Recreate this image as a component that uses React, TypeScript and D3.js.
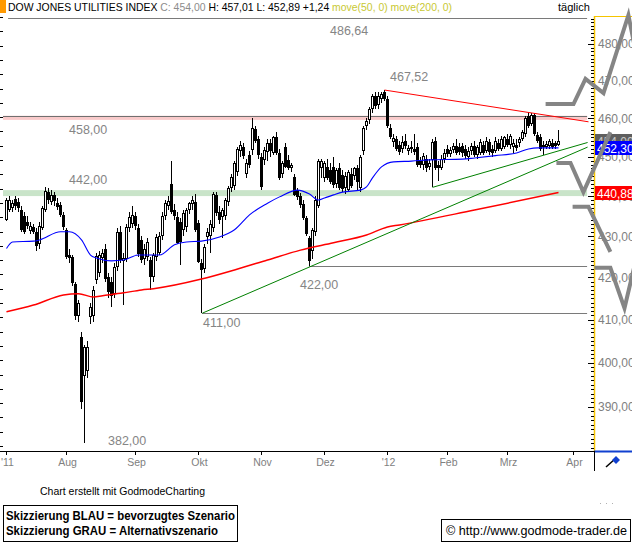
import React from 'react';
import * as d3 from 'd3';

const W = 632;
const H = 550;
const FONT = 'Liberation Sans, Arial, Helvetica, sans-serif';

// daily candles, 1 Jul 2011 .. 23 Mar 2012 : [open, high, low, close]
const ohlc: [number, number, number, number][] = [
  [434.0, 439.5, 433.8, 439.0], [436.5, 440.0, 436.0, 439.0], [437.0, 439.0, 436.0, 438.2], [439.2, 440.0, 436.5, 437.5],
  [438.5, 439.5, 436.0, 437.0], [436.5, 437.5, 431.0, 431.6], [435.0, 436.0, 430.5, 431.0], [433.5, 435.0, 431.8, 432.5],
  [431.3, 433.5, 430.6, 432.5], [432.3, 433.0, 430.5, 431.0], [431.0, 432.0, 426.5, 427.5], [428.0, 433.5, 427.0, 432.5],
  [432.0, 437.5, 431.5, 437.0], [436.5, 442.2, 436.0, 441.3], [441.0, 442.0, 438.0, 439.0], [438.5, 441.5, 437.8, 440.2],
  [440.3, 441.0, 437.5, 438.8], [438.2, 439.5, 436.5, 437.2], [437.8, 438.5, 434.8, 435.2], [435.3, 436.0, 431.5, 432.3],
  [431.6, 432.0, 424.5, 425.0], [425.5, 427.0, 423.5, 424.8], [425.0, 425.5, 418.0, 418.7], [418.5, 419.0, 410.0, 410.8],
  [410.8, 414.6, 409.5, 413.8], [406.0, 407.0, 389.5, 391.0], [397.0, 404.0, 382.0, 403.5], [398.0, 405.0, 396.5, 403.5],
  [410.6, 414.0, 409.0, 413.0], [410.8, 418.0, 409.5, 417.0], [419.4, 426.0, 418.5, 425.2], [421.0, 426.5, 420.0, 425.5],
  [424.8, 427.0, 423.5, 426.0], [427.0, 428.0, 419.0, 419.5], [420.0, 421.0, 415.0, 416.5], [419.0, 420.0, 413.0, 415.5],
  [416.0, 423.5, 415.0, 422.5], [422.5, 432.0, 421.5, 431.0], [431.0, 432.5, 423.5, 424.2], [424.0, 426.0, 413.5, 424.8],
  [424.5, 433.0, 423.8, 432.3], [432.0, 436.0, 431.0, 434.8], [433.0, 437.5, 432.0, 435.3], [435.0, 436.0, 431.5, 432.5],
  [432.0, 433.0, 425.0, 425.6], [429.0, 430.0, 423.5, 424.3], [424.5, 428.0, 423.0, 427.0], [425.0, 429.5, 424.0, 428.6],
  [424.2, 425.0, 417.0, 420.0], [420.2, 426.0, 419.0, 425.5], [425.0, 430.5, 424.0, 429.8], [426.0, 431.0, 425.5, 430.0],
  [430.0, 436.0, 429.0, 435.0], [435.0, 439.0, 434.0, 438.2], [437.5, 440.0, 436.5, 438.8], [443.0, 449.0, 435.5, 436.0],
  [436.5, 438.0, 434.0, 435.0], [434.8, 436.0, 428.0, 428.4], [433.5, 434.5, 423.0, 428.5], [431.6, 436.5, 430.0, 435.8],
  [432.3, 437.0, 431.0, 436.5], [436.5, 438.5, 435.5, 438.2], [438.0, 440.0, 436.5, 439.0], [438.5, 440.5, 431.0, 431.6],
  [433.3, 434.0, 423.5, 423.7], [423.5, 424.5, 411.5, 421.8], [422.0, 428.0, 421.0, 427.3], [429.8, 432.0, 428.0, 431.0],
  [430.0, 434.0, 426.0, 433.0], [432.0, 441.0, 431.0, 440.5], [440.3, 441.0, 435.0, 435.8], [436.0, 437.5, 433.0, 434.0],
  [434.8, 437.0, 429.5, 436.5], [435.0, 439.5, 434.0, 439.0], [438.5, 442.5, 437.5, 442.0], [442.0, 445.5, 441.0, 444.8],
  [442.5, 449.0, 441.5, 448.5], [446.0, 452.5, 445.0, 452.0], [451.5, 454.0, 450.0, 453.0], [452.5, 453.5, 449.5, 450.3],
  [445.5, 449.5, 444.5, 448.5], [450.5, 451.5, 447.0, 448.0], [451.8, 460.0, 450.5, 457.5], [457.2, 458.0, 453.5, 454.0],
  [454.5, 455.5, 449.5, 450.5], [450.0, 451.0, 441.5, 442.3], [449.2, 452.5, 448.0, 451.8], [451.2, 454.5, 449.0, 453.5],
  [453.5, 454.5, 450.0, 451.5], [451.0, 455.5, 450.5, 455.0], [455.0, 456.5, 450.5, 451.0], [451.0, 452.0, 444.0, 444.6],
  [445.5, 449.0, 444.5, 448.4], [452.5, 453.5, 447.0, 447.4], [449.2, 450.5, 446.5, 447.2], [447.0, 448.5, 446.0, 447.9],
  [444.8, 445.5, 440.0, 440.3], [441.5, 442.0, 439.0, 439.8], [440.0, 440.8, 437.0, 437.8], [438.0, 439.0, 434.0, 434.5],
  [434.5, 435.0, 430.0, 430.5], [429.5, 430.0, 422.7, 424.0], [426.5, 432.0, 424.5, 431.5], [431.0, 440.0, 430.0, 439.0],
  [437.5, 449.5, 437.0, 449.0], [447.0, 449.5, 444.5, 448.8], [444.5, 449.0, 443.5, 448.4], [447.4, 449.5, 444.0, 444.5],
  [446.5, 448.5, 443.0, 443.6], [447.5, 450.0, 442.0, 442.8], [443.0, 447.0, 442.0, 446.5], [447.0, 448.5, 441.5, 442.0],
  [445.3, 446.5, 441.0, 441.8], [442.0, 446.0, 440.5, 445.0], [441.5, 446.5, 441.0, 446.0], [445.5, 447.0, 442.0, 442.6],
  [445.0, 447.5, 444.0, 447.0], [447.0, 448.0, 441.5, 443.5], [442.0, 450.5, 441.0, 450.0], [451.5, 458.0, 450.5, 457.5],
  [458.0, 460.0, 457.0, 459.2], [459.5, 463.0, 458.5, 462.5], [462.5, 466.5, 461.5, 466.0], [466.0, 467.0, 462.5, 463.3],
  [463.5, 467.0, 462.5, 466.0], [465.0, 467.0, 464.0, 466.5], [467.0, 467.52, 464.5, 465.0], [465.0, 466.0, 457.5, 458.0],
  [457.5, 458.5, 454.5, 455.0], [453.7, 456.0, 452.5, 454.8], [454.5, 455.5, 451.5, 452.0], [453.0, 454.0, 450.5, 451.2],
  [452.0, 455.5, 451.0, 453.7], [454.2, 455.8, 452.0, 452.8], [451.5, 453.0, 450.5, 452.2], [452.0, 454.0, 451.0, 452.5],
  [452.0, 456.0, 450.5, 451.2], [452.5, 453.5, 447.5, 447.8], [449.0, 450.0, 447.0, 447.8], [448.0, 451.0, 446.5, 450.3],
  [449.5, 450.5, 446.0, 447.2], [447.5, 449.5, 446.5, 448.5], [449.2, 454.5, 442.2, 453.9], [454.0, 455.0, 446.5, 447.0],
  [448.0, 449.0, 443.8, 447.0], [447.2, 450.5, 446.5, 449.4], [449.5, 452.0, 448.5, 451.0], [452.0, 453.0, 450.0, 450.8],
  [450.8, 452.5, 450.0, 451.8], [451.8, 453.5, 451.0, 452.8], [452.8, 454.5, 450.5, 451.0], [452.5, 453.5, 450.5, 451.3],
  [452.8, 453.5, 450.0, 451.0], [452.0, 453.0, 449.5, 450.2], [450.0, 452.5, 449.0, 451.5], [451.5, 453.5, 450.5, 452.8],
  [452.8, 454.0, 450.0, 450.5], [450.5, 453.0, 449.5, 452.5], [451.0, 454.5, 450.5, 453.7], [453.0, 454.0, 450.5, 451.0],
  [451.5, 455.0, 451.0, 454.0], [453.7, 454.5, 450.5, 451.3], [452.0, 453.0, 450.0, 451.0], [451.5, 455.0, 451.0, 454.0],
  [453.5, 454.5, 451.5, 452.0], [452.0, 455.5, 451.5, 454.5], [452.5, 455.5, 452.0, 455.0], [454.5, 456.0, 452.5, 453.0],
  [453.0, 456.0, 452.0, 455.5], [452.5, 454.5, 451.0, 453.5], [453.0, 454.5, 451.5, 452.2], [453.5, 455.0, 452.5, 454.5],
  [454.5, 457.0, 454.0, 456.5], [455.8, 460.5, 455.0, 460.0], [460.5, 461.7, 457.5, 458.0], [458.5, 461.5, 458.0, 460.8],
  [461.0, 461.5, 455.5, 456.0], [455.7, 456.5, 453.5, 454.0], [455.0, 456.0, 451.5, 452.0], [453.0, 454.0, 450.5, 452.5],
  [452.5, 454.0, 452.0, 453.2], [452.8, 454.5, 452.0, 454.0], [453.5, 454.5, 452.0, 452.6], [453.5, 454.0, 452.0, 452.76],
  [453.0, 457.01, 452.89, 454.0],
];

// moving averages: [day index, value]
const ma50: [number, number][] = [
  [0, 427.0], [2, 428.6], [9, 428.8], [11, 429.1], [18, 431.1], [21, 431.1], [25, 429.1], [28, 425.4], [30, 424.7],
  [35, 424.0], [39, 424.2], [44, 425.4], [51, 425.4], [56, 427.9], [60, 428.6], [65, 428.8], [71, 429.8], [76, 431.6],
  [81, 435.3], [87, 438.2], [91, 439.8], [97, 441.5], [101, 440.5], [104, 439.0], [106, 439.5], [109, 440.3],
  [112, 441.0], [118, 441.5], [120, 442.3], [122, 444.6], [125, 447.4], [129, 448.7], [135, 448.9], [141, 449.2],
  [152, 449.4], [156, 449.7], [163, 450.3], [170, 451.0], [174, 452.0], [177, 452.3], [184, 452.3],
];
const ma200: [number, number][] = [
  [0, 411.8], [9, 413.4], [19, 415.8], [24, 416.1], [29, 415.3], [32, 415.6], [39, 416.3], [45, 417.0], [49, 417.3],
  [65, 419.6], [76, 421.8], [87, 424.2], [98, 426.6], [109, 428.4], [120, 430.3], [127, 432.3], [131, 432.8],
  [156, 436.5], [184, 440.88],
];

// trend lines
const resistLine: [number, number][] = [[126, 467.52], [194, 459.1]];
const supportLong: [number, number][] = [[65.3, 411.5], [193.7, 452.5]];
const supportShort: [number, number][] = [[142, 442.2], [193.7, 453.7]];

// horizontal levels [start index, value]
const levelStarts = [0.7, 101, 65.3];
const levelValues = [487.2, 422.7, 411.5];
const resistZone = [459.6, 460.7];
const supportZone = [440.0, 441.5];

// scenario sketches (grey)
const sketches: [number, number][][] = [
  [[179.7, 463.8], [189, 463.8], [193, 470.5], [199, 466.7], [207.3, 488.0], [209.3, 479.7]],
  [[183.3, 448.4], [188, 448.4], [192.3, 441.0], [201.3, 456.4]],
  [[188.7, 437.3], [194, 437.3], [201.3, 426.2]],
  [[196, 422.3], [201.3, 422.3], [206, 412.7], [209.3, 422.7]],
];

const monthStarts = [0, 20, 43, 64, 85, 106, 127, 147, 167, 189];
const monthLabels = ["'11", 'Aug', 'Sep', 'Okt', 'Nov', 'Dez', "'12", 'Feb', 'Mrz', 'Apr'];
const yTicks = [390, 400, 410, 420, 430, 440, 450, 460, 470, 480];

const noteTexts = ['486,64', '467,52', '458,00', '442,00', '422,00', '411,00', '382,00'];
const noteValues = [486.64, 467.52, 458, 442, 422, 411, 382];

const priceBoxes = [
  { value: 454.0, text: '454,00', fill: '#5f5f5f', color: '#c8c8c8' },
  { value: 452.3, text: '452,30', fill: '#0000ff', color: '#ffffff' },
  { value: 440.88, text: '440,88', fill: '#ff0000', color: '#ffffff' },
];

export default function App() {
  const x = d3.scaleLinear().domain([0, 196]).range([6, 594]);
  const y = d3.scaleLog().domain([380.29, 487.47]).range([451, 17]);
  const line = d3.line<[number, number]>().x(d => x(d[0]) + 0.5).y(d => y(d[1]));
  const smooth = d3.line<[number, number]>().x(d => x(d[0]) + 0.5).y(d => y(d[1])).curve(d3.curveMonotoneX);
  const levelEnd = 193.7;

  // note label layout: [left x index, vertical offset from value]
  const noteLayout = [[108, 15.5], [128, -9.5], [21, 8.5], [21, -3.7], [98, 20.4], [65.7, 12.2], [34, 2.3]];

  const minorTicks = d3.range(381, 488);
  const leftTicks = d3.range(17, 451, 14.3);

  return (
    <div style={{ position: 'absolute', left: 0, top: 0 }}>
      <style>{'body{margin:0}'}</style>
      <svg width={W} height={H} style={{ display: 'block', fontFamily: FONT }}>
        <rect width={W} height={H} fill="#fff" />
        <defs>
          <clipPath id="plot">
            <rect x={0} y={17} width={594} height={434} />
          </clipPath>
        </defs>

        {/* header */}
        <rect x={0} y={0} width={6} height={13} fill="#ff9900" />
        <text x={8} y={11} fontSize={11} textLength={444} lengthAdjust="spacingAndGlyphs">
          <tspan fill="#000">DOW JONES UTILITIES INDEX </tspan>
          <tspan fill="#8c8c8c">C: 454,00 </tspan>
          <tspan fill="#000">H: 457,01 L: 452,89 +1,24 </tspan>
          <tspan fill="#c8c832">move(50, 0) move(200, 0)</tspan>
        </text>
        <text x={558} y={11} fontSize={11} fill="#000">täglich</text>

        <g clipPath="url(#plot)">
          {/* zones */}
          <rect x={x(-1)} width={x(levelEnd) - x(-1)} y={y(supportZone[1])} height={y(supportZone[0]) - y(supportZone[1])} fill="#c9e4c9" />
          <rect x={x(-1)} width={x(levelEnd) - x(-1)} y={y(resistZone[1])} height={y(resistZone[0]) - y(resistZone[1])} fill="#f9caca" />
          <line x1={x(-1)} x2={x(levelEnd)} y1={Math.round(y(resistZone[1])) + 0.5} y2={Math.round(y(resistZone[1])) + 0.5} stroke="#707070" />

          {levelValues.map((v, i) => (
            <line key={i} x1={x(levelStarts[i])} x2={x(levelEnd)} y1={Math.round(y(v)) + 0.5} y2={Math.round(y(v)) + 0.5} stroke="#7a7a7a" />
          ))}

          {/* candles */}
          {ohlc.map(([o, h, l, c], i) => {
            const cx = Math.round(x(i));
            const hi = Math.round(y(h));
            const lo = Math.round(y(l));
            const top = Math.round(y(Math.max(o, c)));
            const bot = Math.round(y(Math.min(o, c)));
            const bh = Math.max(1, bot - top);
            const up = c >= o;
            return (
              <g key={i}>
                <rect x={cx} y={hi} width={1} height={Math.max(1, lo - hi)} fill="#000" />
                <rect x={cx - 1} y={top} width={3} height={bh} fill="#000" />
                {up && bh > 2 && <rect x={cx} y={top + 1} width={1} height={bh - 2} fill="#fff" />}
              </g>
            );
          })}

          <path d={smooth(ma200) || ''} fill="none" stroke="#ff0000" strokeWidth={1.5} />
          <path d={smooth(ma50) || ''} fill="none" stroke="#0000ff" strokeWidth={1.1} />
          <path d={line(resistLine) || ''} fill="none" stroke="#ff0000" strokeWidth={1} />
          <path d={line(supportLong) || ''} fill="none" stroke="#008000" strokeWidth={1} />
          <path d={line(supportShort) || ''} fill="none" stroke="#008000" strokeWidth={1} />
        </g>

        {/* level labels */}
        {noteTexts.map((t, i) => (
          <text key={t} x={x(noteLayout[i][0])} y={y(noteValues[i]) + noteLayout[i][1]} fontSize={12.5} fill="#858585">{t}</text>
        ))}

        {/* left frame ticks */}
        {leftTicks.map((t, i) => (
          <line key={i} x1={0} x2={3} y1={Math.round(t) + 0.5} y2={Math.round(t) + 0.5} stroke="#000" />
        ))}

        {/* right axis */}
        <line x1={594.5} x2={594.5} y1={16} y2={451} stroke="#f5c400" strokeWidth={1.5} />
        <line x1={594} x2={632} y1={16.5} y2={16.5} stroke="#f5c400" />
        {minorTicks.map(v => (
          <line key={v} x1={v % 10 === 0 ? 588 : 591} x2={594} y1={Math.round(y(v)) + 0.5} y2={Math.round(y(v)) + 0.5} stroke="#000" />
        ))}
        {yTicks.map(v => (
          <text key={v} x={598} y={y(v) + 4.5} fontSize={12} fill="#808080">{d3.format('.2f')(v).replace('.', ',')}</text>
        ))}
        {priceBoxes.map(b => (
          <g key={b.text}>
            <rect x={595} y={Math.round(y(b.value)) - 7} width={37} height={14} fill={b.fill} />
            <text x={597} y={Math.round(y(b.value)) + 4.5} fontSize={12} fill={b.color}>{b.text}</text>
          </g>
        ))}

        {/* scenario sketches */}
        {sketches.map((s, i) => (
          <path key={i} d={line(s) || ''} fill="none" stroke="#858585" strokeWidth={4} strokeLinejoin="miter" />
        ))}

        {/* x axis */}
        <line x1={0} x2={594} y1={451.5} y2={451.5} stroke="#000" />
        {monthStarts.map((m, i) => (
          <g key={m}>
            <line x1={Math.round(x(m)) + 0.5} x2={Math.round(x(m)) + 0.5} y1={451} y2={455} stroke="#000" />
            <text x={x(m) + 1.5} y={466} fontSize={10.5} fill="#808080" textAnchor="middle">{monthLabels[i]}</text>
          </g>
        ))}

        {/* drawing tool box */}
        <line x1={594} x2={632} y1={451.5} y2={451.5} stroke="#1040d0" strokeWidth={2} />
        <line x1={594.5} x2={594.5} y1={451} y2={471} stroke="#000" />
        <line x1={606} y1={467} x2={615} y2={459} stroke="#000" strokeWidth={1.5} />
        <path d="M612,460 L616,456 L620,460 L616,464 Z" fill="#1040d0" />
        {[600, 606, 612].map(dx => (
          <rect key={dx} x={dx} y={503} width={1} height={1} fill="#b0b0b0" />
        ))}

        {/* footer */}
        <text x={40} y={495} fontSize={10.5} fill="#000" textLength={165} lengthAdjust="spacingAndGlyphs">Chart erstellt mit GodmodeCharting</text>
        <rect x={3.5} y={505.5} width={234} height={36} fill="none" stroke="#000" />
        <text x={6} y={520} fontSize={12} fontWeight="bold" fill="#000" textLength={229} lengthAdjust="spacingAndGlyphs">Skizzierung BLAU = bevorzugtes Szenario</text>
        <text x={6} y={535} fontSize={12} fontWeight="bold" fill="#000" textLength={212} lengthAdjust="spacingAndGlyphs">Skizzierung GRAU = Alternativszenario</text>
        <rect x={441.5} y={519.5} width={189} height={22} fill="none" stroke="#000" />
        <text x={446} y={535} fontSize={12} fill="#000" textLength={181} lengthAdjust="spacingAndGlyphs">© http://www.godmode-trader.de</text>
      </svg>
    </div>
  );
}
